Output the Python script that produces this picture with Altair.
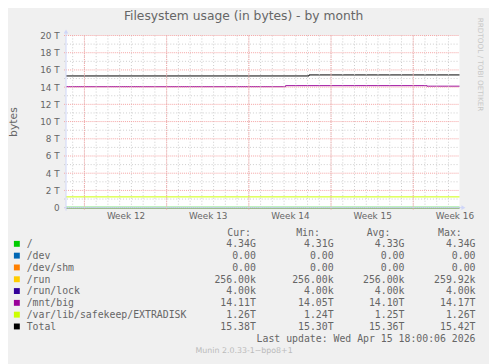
import altair as alt
import pandas as pd

# ---------------- data ----------------
T_START = "2026-03-14T10:25:00Z"
T_END = "2026-04-16T22:30:00Z"

series_names = ["/", "/dev", "/dev/shm", "/run", "/run/lock", "/mnt/big",
                "/var/lib/safekeep/EXTRADISK", "Total"]
series_colors = ["#00CC00", "#0066B3", "#FF8000", "#FFCC00", "#330099",
                 "#990099", "#CCFF00", "#000000"]

# values in T (terabytes), step-after
root_times = [T_START, T_END]
root_vals = [0.00434, 0.00434]
dev_times = [T_START, T_END]
dev_vals = [0.0, 0.0]
shm_times = [T_START, T_END]
shm_vals = [0.0, 0.0]
run_times = [T_START, T_END]
run_vals = [2.56e-7, 2.56e-7]
lock_times = [T_START, T_END]
lock_vals = [4e-9, 4e-9]
big_times = [T_START, "2026-04-02T03:00:00Z", "2026-04-14T04:00:00Z", T_END]
big_vals = [14.05, 14.17, 14.11, 14.11]
extra_times = [T_START, T_END]
extra_vals = [1.25, 1.25]
total_times = [T_START, "2026-04-04T03:00:00Z", T_END]
total_vals = [15.30, 15.42, 15.42]

# legend table
leg_cur = ["4.34G", "0.00", "0.00", "256.00k", "4.00k", "14.11T", "1.26T", "15.38T"]
leg_min = ["4.31G", "0.00", "0.00", "256.00k", "4.00k", "14.05T", "1.24T", "15.30T"]
leg_avg = ["4.33G", "0.00", "0.00", "256.00k", "4.00k", "14.10T", "1.25T", "15.36T"]
leg_max = ["4.34G", "0.00", "0.00", "259.92k", "4.00k", "14.17T", "1.26T", "15.42T"]
headers = ["Cur:", "Min:", "Avg:", "Max:"]

week_starts = [(3, 16), (3, 23), (3, 30), (4, 6), (4, 13)]
y_major = [0, 2, 4, 6, 8, 10, 12, 14, 16, 18, 20]
y_minor = [1, 3, 5, 7, 9, 11, 13, 15, 17, 19]
day_lines = [d.strftime("%Y-%m-%dT00:00:00Z")
             for d in pd.date_range("2026-03-15", "2026-04-16", freq="D")]
week_lines = ["2026-%02d-%02dT00:00:00Z" % md for md in week_starts]

title_text = "Filesystem usage (in bytes) - by month"
last_update = "Last update: Wed Apr 15 18:00:06 2026"
munin_ver = "Munin 2.0.33-1~bpo8+1"
watermark = "RRDTOOL / TOBI OETIKER"

# ---------------- styles ----------------
FONT = "DejaVu Sans"
MONO = "DejaVu Sans Mono"
FC = "#666666"
GRID = "#CCCCCC"
MGRID = "#F5A3A3"
AXIS = "#CFD6F8"

rows = []
for name, times, vals in [
    ("/", root_times, root_vals), ("/dev", dev_times, dev_vals),
    ("/dev/shm", shm_times, shm_vals), ("/run", run_times, run_vals),
    ("/run/lock", lock_times, lock_vals), ("/mnt/big", big_times, big_vals),
    ("/var/lib/safekeep/EXTRADISK", extra_times, extra_vals),
    ("Total", total_times, total_vals)]:
    for t, v in zip(times, vals):
        rows.append({"series": name, "t": t, "v": v})
df = pd.DataFrame(rows)

xscale = alt.Scale(type="utc", domain=[
    alt.DateTime(year=2026, month=3, date=14, hours=10, minutes=25, utc=True),
    alt.DateTime(year=2026, month=4, date=16, hours=22, minutes=30, utc=True)])
yscale = alt.Scale(domain=[0, 20], nice=False, zero=True)
cscale = alt.Scale(domain=series_names, range=series_colors)

xaxis = alt.Axis(
    values=[alt.DateTime(year=2026, month=m, date=d, utc=True) for m, d in week_starts],
    labelExpr="'Week ' + utcFormat(datum.value, '%V')",
    domain=False, ticks=False, grid=False, title=None,
    labelOffset=41.8, labelPadding=11, labelBaseline="alphabetic",
    labelFont=FONT, labelFontSize=9, labelColor=FC,
    labelOverlap=False, labelBound=False, labelFlush=False)
yaxis = alt.Axis(
    values=y_major,
    labelExpr="datum.value == 0 ? '0' : datum.value + ' T'",
    domain=False, ticks=False, grid=False,
    labelFont=FONT, labelFontSize=9, labelColor=FC, labelPadding=7,
    title="bytes", titleFont=FONT, titleFontSize=11, titleFontWeight="normal",
    titleColor=FC, titleX=-50.5, titleY=87.5, titleAngle=-90,
    titleBaseline="alphabetic", titleAlign="center")

lines_other = alt.Chart(df[df.series != "/"]).mark_line(
    interpolate="step-after", strokeWidth=1).encode(
    x=alt.X("t:T", scale=xscale, axis=xaxis),
    y=alt.Y("v:Q", scale=yscale, axis=yaxis),
    color=alt.Color("series:N", scale=cscale, legend=None),
    detail="series:N")
lines_root = alt.Chart(df[df.series == "/"]).mark_line(
    interpolate="step-after", strokeWidth=1.5).encode(
    x=alt.X("t:T", scale=xscale, axis=xaxis),
    y=alt.Y("v:Q", scale=yscale, axis=yaxis),
    color=alt.Color("series:N", scale=cscale, legend=None))

minor_v = alt.Chart(pd.DataFrame({"t": day_lines})).mark_rule(
    color=GRID, strokeDash=[1, 2], strokeWidth=1).encode(
    x=alt.X("t:T", scale=xscale, axis=xaxis), y=alt.value(0), y2=alt.value(175))
minor_h = alt.Chart(pd.DataFrame({"v": y_minor})).mark_rule(
    color=GRID, strokeDash=[1, 2], strokeWidth=1).encode(
    y=alt.Y("v:Q", scale=yscale, axis=yaxis), x=alt.value(-2), x2=alt.value(400))
major_v = alt.Chart(pd.DataFrame({"t": week_lines})).mark_rule(
    color=MGRID, strokeDash=[1, 1], strokeWidth=1).encode(
    x=alt.X("t:T", scale=xscale, axis=xaxis), y=alt.value(0), y2=alt.value(178))
major_h = alt.Chart(pd.DataFrame({"v": y_major})).mark_rule(
    color=MGRID, strokeDash=[1, 1], strokeWidth=1).encode(
    y=alt.Y("v:Q", scale=yscale, axis=yaxis), x=alt.value(-2), x2=alt.value(400))

one = pd.DataFrame({"a": [0]})
yaxis_line = alt.Chart(one).mark_rule(color=AXIS, strokeWidth=1).encode(
    x=alt.value(0), y=alt.value(-3), y2=alt.value(178))
xaxis_line = alt.Chart(one).mark_rule(color=AXIS, strokeWidth=1).encode(
    y=alt.value(175), x=alt.value(-2), x2=alt.value(403))
arrow_up = alt.Chart(one).mark_point(shape="triangle-up", filled=True, color=AXIS,
                                     size=22, opacity=1).encode(
    x=alt.value(0), y=alt.value(-4))
arrow_right = alt.Chart(one).mark_point(shape="triangle-right", filled=True, color=AXIS,
                                        size=22, opacity=1).encode(
    x=alt.value(404), y=alt.value(175))

title = alt.Chart(one).mark_text(text=title_text, font=FONT, fontSize=12.5, color=FC,
                                 align="center", baseline="alphabetic").encode(
    x=alt.value(180.5), y=alt.value(-15.5))
wm = alt.Chart(one).mark_text(text=watermark, font=FONT, fontSize=7.4, color="#C8C8C8",
                              align="center", baseline="middle", angle=90).encode(
    x=alt.value(420.5), y=alt.value(29.5))
ver = alt.Chart(one).mark_text(text=munin_ver, font=FONT, fontSize=8, color="#BBBBBB",
                               align="center", baseline="alphabetic").encode(
    x=alt.value(181), y=alt.value(322.5))
upd = alt.Chart(one).mark_text(text=last_update, font=MONO, fontSize=10, color=FC,
                               align="right", baseline="alphabetic").encode(
    x=alt.value(416.3), y=alt.value(311.3))

hdr_layers = []
for h, xr in zip(headers, [188, 258, 329.7, 402.3]):
    hdr_layers.append(alt.Chart(one).mark_text(
        text=h, font=MONO, fontSize=10, color=FC, align="right",
        baseline="alphabetic").encode(x=alt.value(xr), y=alt.value(203.7)))

legend_df = pd.DataFrame({"row": list(range(len(series_names))), "label": series_names,
                          "color": series_colors, "cur": leg_cur, "mn": leg_min,
                          "av": leg_avg, "mx": leg_max})
leg = alt.Chart(legend_df).transform_calculate(
    ypix="215.3 + 12*datum.row", ysq="211.8 + 12*datum.row")
swatch = leg.mark_square(size=36, opacity=1).encode(
    x=alt.value(-50), y=alt.Y("ysq:Q", scale=None),
    color=alt.Color("color:N", scale=None, legend=None))
leg_layers = [swatch, leg.mark_text(font=MONO, fontSize=10, color=FC, align="left",
                                    baseline="alphabetic").encode(
    x=alt.value(-40), y=alt.Y("ypix:Q", scale=None), text="label:N")]
for col, xr in [("cur", 193), ("mn", 272), ("av", 344), ("mx", 416.3)]:
    leg_layers.append(leg.mark_text(font=MONO, fontSize=10, color=FC, align="right",
                                    baseline="alphabetic").encode(
        x=alt.value(xr), y=alt.Y("ypix:Q", scale=None), text=f"{col}:N"))

chart = alt.layer(
    lines_other, lines_root, minor_v, minor_h, major_v, major_h,
    yaxis_line, xaxis_line, arrow_up, arrow_right,
    title, wm, ver, upd, *hdr_layers, *leg_layers
).resolve_scale(color="independent").properties(
    width=400, height=175, background="#F0F0F0",
    padding={"left": 59, "top": 25, "right": 30, "bottom": 156},
    autosize=alt.AutoSizeParams(type="none")
).configure_view(fill="white", stroke=None)

chart.save("out.html", embed_options={"renderer": "svg", "actions": False})
